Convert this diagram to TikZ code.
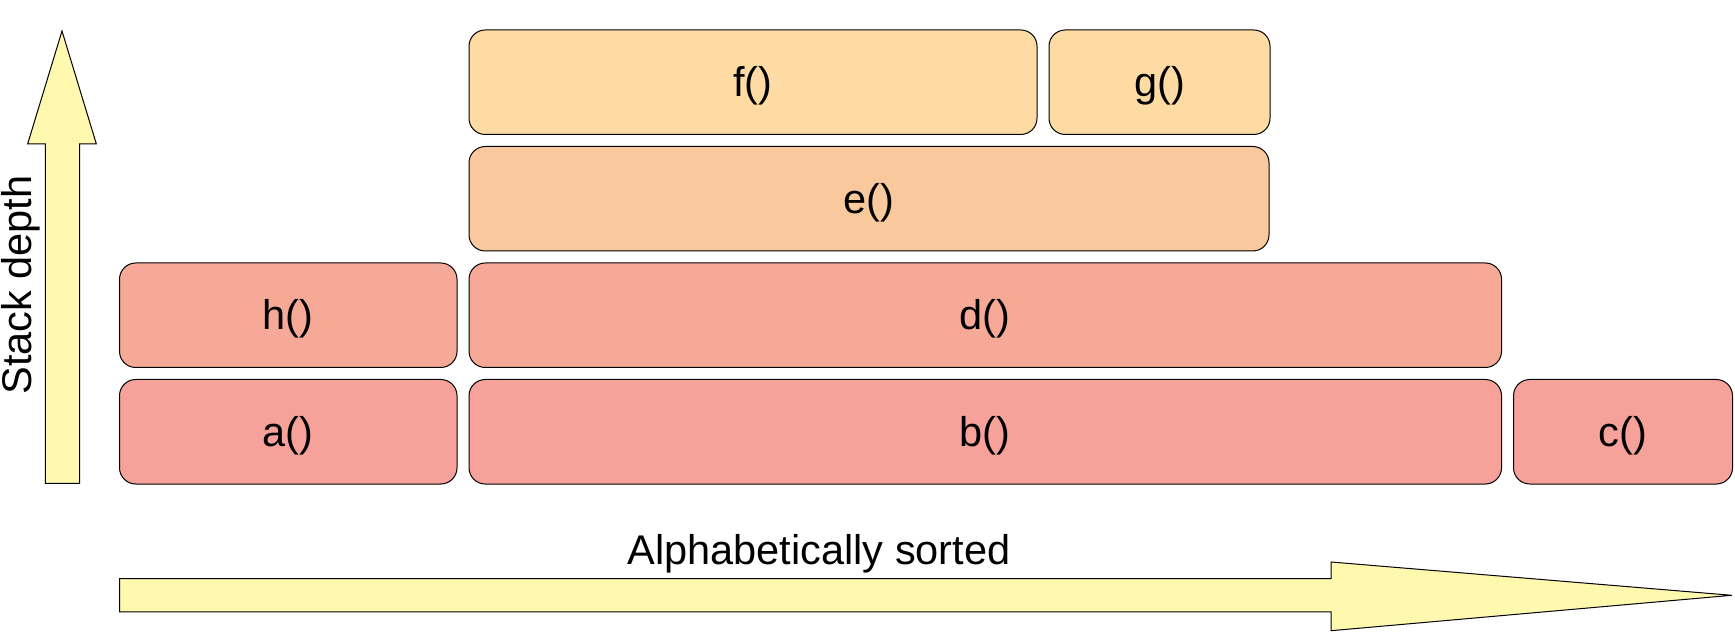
\documentclass[tikz,border=0pt]{standalone}
\usepackage{fontspec}
\setmainfont{Liberation Sans}
\usepackage{tikz}
\usetikzlibrary{positioning}
\definecolor{callred}{HTML}{F6A199}
\definecolor{callsalmon}{HTML}{F6A996}
\definecolor{callpeach}{HTML}{F9C89D}
\definecolor{callsand}{HTML}{FEDBA2}
\definecolor{axisyellow}{HTML}{FFF8AF}

\begin{document}
\begin{tikzpicture}[x=0.4pt,y=-0.4pt,node distance=4.8pt,
  frame/.style={draw,line width=0.4pt,rounded corners=6.5pt,inner sep=0pt,outer sep=0pt,
    minimum height=41.8pt,text height=15pt,text depth=3.5pt,font=\fontsize{16.6}{20}\selectfont},
  axis/.style={draw,line width=0.4pt,fill=axisyellow,line join=miter},
  axislabel/.style={font=\fontsize{16.6}{20}\selectfont,inner sep=0pt}
]
  \useasboundingbox (0,0) rectangle (1735,632);
  % bottom row
  \node[frame,fill=callred,minimum width=135pt,anchor=north west] (a) at (119.5,379.5) {a()};
  \node[frame,fill=callred,minimum width=413pt,right=of a] (b) {b()};
  \node[frame,fill=callred,minimum width=87.6pt,right=of b] (c) {c()};
  % second row
  \node[frame,fill=callsalmon,minimum width=135pt,above=of a] (h) {h()};
  \node[frame,fill=callsalmon,minimum width=413pt,above=of b] (d) {d()};
  % upper rows
  \node[frame,fill=callpeach,minimum width=320pt,above=of d.north west,anchor=south west] (e) {e()};
  \node[frame,fill=callsand,minimum width=227.2pt,above=of e.north west,anchor=south west] (f) {f()};
  \node[frame,fill=callsand,minimum width=88.4pt,right=of f] (g) {g()};
  % axes
  \draw[axis] (45.4,483.5) -- (45.4,143.8) -- (27.7,143.8) -- (62,31) -- (96.3,143.8)
    -- (79.7,143.8) -- (79.7,483.5) -- cycle;
  \draw[axis] (119.5,578.7) -- (1331,578.7) -- (1331,562) -- (1731.7,595.3) -- (1331,630.7)
    -- (1331,612) -- (119.5,612) -- cycle;
  \node[axislabel,rotate=90] (depth) at (20.5,285) {Stack depth};
  \node[axislabel,anchor=base] (sorted) at (819,564) {Alphabetically sorted};
\end{tikzpicture}
\end{document}
